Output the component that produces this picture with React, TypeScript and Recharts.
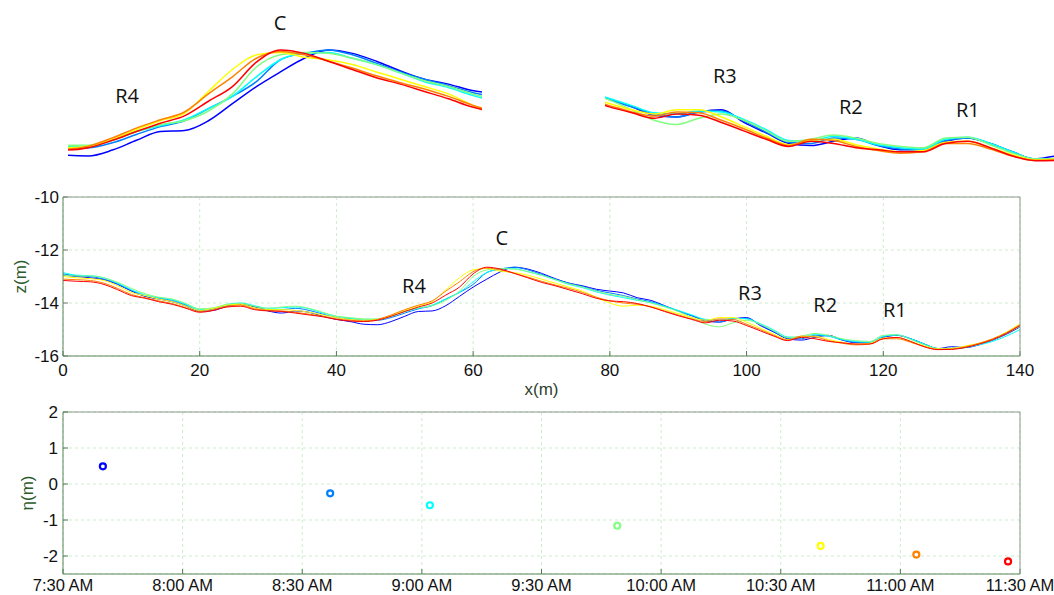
import React from 'react';
import {
  LineChart,
  Line,
  XAxis,
  YAxis,
  CartesianGrid,
  ReferenceDot,
  ScatterChart,
  Scatter,
} from 'recharts';

// ---------- data ----------
const X_POS = [
  0, 2, 4, 6, 8, 10, 12, 14, 16, 18, 20, 22, 24, 26, 28, 30, 32, 34, 36, 38,
  40, 42, 44, 46, 48, 50, 52, 54, 56, 58, 60, 62, 64, 66, 68, 70, 72, 74, 76, 78,
  80, 82, 84, 86, 88, 90, 92, 94, 96, 98, 100, 102, 104, 106, 108, 110, 112, 114, 116, 118,
  120, 122, 124, 126, 128, 130, 132, 134, 136, 138, 140,
];

const Z_0740 = [
  -12.95, -13.0, -13.05, -13.12, -13.3, -13.55, -13.75, -13.85, -13.95, -14.12, -14.32, -14.28, -14.12, -14.05, -14.15, -14.3, -14.38, -14.3, -14.35, -14.5,
  -14.62, -14.7, -14.8, -14.82, -14.7, -14.5, -14.32, -14.3, -14.1, -13.75, -13.4, -13.1, -12.82, -12.65, -12.72, -12.88, -13.08, -13.25, -13.35, -13.48,
  -13.55, -13.62, -13.8, -13.9, -14.1, -14.3, -14.48, -14.68, -14.72, -14.6, -14.55, -14.85, -15.1, -15.35, -15.4, -15.3, -15.22, -15.4, -15.5, -15.5,
  -15.3, -15.22, -15.35, -15.55, -15.72, -15.65, -15.68, -15.58, -15.4, -15.18, -14.9,
];
const Z_0837 = [
  -12.9, -12.97, -13.0, -13.1, -13.28, -13.52, -13.72, -13.82, -13.9, -14.08, -14.28, -14.22, -14.08, -14.02, -14.12, -14.25, -14.25, -14.2, -14.28, -14.42,
  -14.55, -14.6, -14.65, -14.65, -14.55, -14.38, -14.22, -14.1, -13.85, -13.6, -13.3, -12.85, -12.72, -12.65, -12.75, -12.92, -13.1, -13.25, -13.38, -13.52,
  -13.62, -13.72, -13.85, -13.95, -14.12, -14.3, -14.48, -14.65, -14.72, -14.6, -14.58, -14.82, -15.08, -15.32, -15.35, -15.22, -15.25, -15.4, -15.48, -15.5,
  -15.28, -15.22, -15.35, -15.55, -15.72, -15.72, -15.68, -15.55, -15.4, -15.15, -14.85,
];
const Z_0902 = [
  -12.85, -12.95, -12.97, -13.05, -13.25, -13.5, -13.7, -13.8, -13.88, -14.05, -14.25, -14.2, -14.05, -14.0, -14.1, -14.2, -14.18, -14.15, -14.22, -14.38,
  -14.5, -14.58, -14.62, -14.62, -14.5, -14.32, -14.2, -14.08, -13.85, -13.6, -13.2, -12.85, -12.72, -12.7, -12.82, -12.95, -13.12, -13.3, -13.42, -13.58,
  -13.7, -13.8, -13.9, -13.98, -14.12, -14.28, -14.45, -14.62, -14.65, -14.58, -14.6, -14.78, -15.02, -15.28, -15.3, -15.18, -15.25, -15.38, -15.45, -15.48,
  -15.25, -15.2, -15.35, -15.55, -15.72, -15.72, -15.68, -15.58, -15.45, -15.25, -15.0,
];
const Z_0949 = [
  -12.95, -12.98, -12.98, -13.05, -13.22, -13.45, -13.65, -13.78, -13.85, -14.02, -14.22, -14.18, -14.05, -14.02, -14.12, -14.2, -14.15, -14.12, -14.2, -14.35,
  -14.5, -14.55, -14.6, -14.6, -14.5, -14.32, -14.18, -14.1, -13.9, -13.55, -13.0, -12.75, -12.7, -12.72, -12.82, -12.95, -13.12, -13.28, -13.4, -13.55,
  -13.68, -13.75, -13.88, -14.0, -14.15, -14.32, -14.55, -14.8, -14.9, -14.75, -14.65, -14.8, -15.05, -15.3, -15.25, -15.15, -15.22, -15.35, -15.42, -15.45,
  -15.22, -15.2, -15.38, -15.58, -15.72, -15.7, -15.65, -15.55, -15.38, -15.15, -14.88,
];
const Z_1040 = [
  -13.0, -13.05, -13.08, -13.15, -13.35, -13.6, -13.72, -13.85, -13.95, -14.12, -14.28, -14.2, -14.08, -14.05, -14.18, -14.25, -14.25, -14.28, -14.35, -14.45,
  -14.55, -14.62, -14.65, -14.62, -14.48, -14.28, -14.1, -13.95, -13.5, -13.05, -12.75, -12.7, -12.8, -12.85, -12.95, -13.1, -13.25, -13.4, -13.55, -13.78,
  -14.0, -14.12, -14.08, -14.12, -14.25, -14.4, -14.55, -14.65, -14.55, -14.55, -14.72, -14.95, -15.18, -15.38, -15.28, -15.25, -15.38, -15.48, -15.55, -15.52,
  -15.32, -15.3, -15.45, -15.62, -15.74, -15.72, -15.62, -15.52, -15.35, -15.1, -14.78,
];
const Z_1104 = [
  -13.1, -13.12, -13.15, -13.25, -13.45, -13.68, -13.8, -13.92, -14.02, -14.18, -14.32, -14.25, -14.12, -14.08, -14.22, -14.28, -14.3, -14.35, -14.42, -14.5,
  -14.6, -14.65, -14.68, -14.62, -14.45, -14.25, -14.08, -13.92, -13.55, -13.2, -12.82, -12.68, -12.75, -12.88, -13.02, -13.18, -13.32, -13.45, -13.6, -13.78,
  -13.92, -14.0, -14.05, -14.15, -14.3, -14.45, -14.6, -14.7, -14.6, -14.62, -14.8, -15.0, -15.22, -15.4, -15.25, -15.28, -15.42, -15.52, -15.58, -15.55,
  -15.35, -15.35, -15.48, -15.65, -15.75, -15.74, -15.65, -15.52, -15.35, -15.12, -14.82,
];
const Z_1127 = [
  -13.15, -13.18, -13.2, -13.3, -13.5, -13.72, -13.82, -13.95, -14.05, -14.2, -14.35, -14.28, -14.15, -14.12, -14.25, -14.3, -14.32, -14.38, -14.45, -14.52,
  -14.62, -14.68, -14.7, -14.65, -14.5, -14.32, -14.15, -14.0, -13.7, -13.4, -12.9, -12.65, -12.72, -12.88, -13.05, -13.22, -13.35, -13.5, -13.65, -13.82,
  -13.92, -13.95, -14.02, -14.15, -14.32, -14.48, -14.62, -14.75, -14.65, -14.68, -14.85, -15.05, -15.25, -15.42, -15.3, -15.35, -15.45, -15.5, -15.55, -15.55,
  -15.35, -15.3, -15.45, -15.65, -15.76, -15.75, -15.68, -15.55, -15.38, -15.15, -14.85,
];

const SURVEY_TIMES = ['7:40', '8:37', '9:02', '9:49', '10:40', '11:04', '11:27'];
const ETA = [0.49, -0.26, -0.59, -1.16, -1.72, -1.96, -2.15];

const X_TICKS = [0, 20, 40, 60, 80, 100, 120, 140];
const Z_TICKS = [-16, -14, -12, -10];
const ETA_TICKS = [-2, -1, 0, 1, 2];
const TIME_TICK_LABELS = ['7:30 AM', '8:00 AM', '8:30 AM', '9:00 AM', '9:30 AM', '10:00 AM', '10:30 AM', '11:00 AM', '11:30 AM'];

const MAIN_NOTES = [
  { name: 'C', x: 64.2, z: -11.55 },
  { name: 'R4', x: 51.35, z: -13.36 },
  { name: 'R3', x: 100.5, z: -13.61 },
  { name: 'R2', x: 111.5, z: -14.08 },
  { name: 'R1', x: 121.7, z: -14.26 },
];
const INSET_A_NOTES = [
  { name: 'C', x: 61.97, z: -12.1 },
  { name: 'R4', x: 49.22, z: -13.59 },
];
const INSET_B_NOTES = [
  { name: 'R3', x: 100.31, z: -13.75 },
  { name: 'R2', x: 111.56, z: -14.49 },
  { name: 'R1', x: 122.0, z: -14.56 },
];

// ---------- styles ----------
const PROFILES = [Z_0740, Z_0837, Z_0902, Z_0949, Z_1040, Z_1104, Z_1127];
const JET7 = ['#0000ff', '#0080ff', '#00ffff', '#80ff80', '#ffff00', '#ff8000', '#ff0000'];
const FONT = '"Liberation Sans", Arial, sans-serif';
const NOTE_FONT = '"Open Sans", "Noto Sans", sans-serif';
const FRAME = '#5a865a';
const FRAME2 = '#8c998c';
const TICK = '#4f7a4f';
const LABEL_GREEN = '#2b5a2b';
const GRID = '#cdeccd';

const toMin = (s: string) => {
  const m = s.match(/(\d+):(\d+)/);
  if (!m) return 0;
  let h = parseInt(m[1], 10);
  if (/PM/.test(s) && h < 12) h += 12;
  return h * 60 + parseInt(m[2], 10);
};

const rows = X_POS.map((x, i) => {
  const r: Record<string, number> = { x };
  PROFILES.forEach((p, k) => {
    r['s' + k] = p[i];
  });
  return r;
});

const points = SURVEY_TIMES.map((t, i) => ({ t: toMin(t), eta: ETA[i] }));
const TIME_TICKS = TIME_TICK_LABELS.map(toMin);

const tickStyle = { fill: '#111', fontSize: 17, fontFamily: FONT };

const renderLines = (w: number) =>
  PROFILES.map((_, k) => (
    <Line
      key={k}
      type="monotone"
      dataKey={'s' + k}
      stroke={JET7[k]}
      strokeWidth={w}
      dot={false}
      activeDot={false}
      isAnimationActive={false}
    />
  ));

const renderNotes = (notes: { name: string; x: number; z: number }[]) =>
  notes.map((n) => (
    <ReferenceDot
      key={n.name}
      x={n.x}
      y={n.z}
      r={0}
      fill="none"
      stroke="none"
      ifOverflow="visible"
      label={{ value: n.name, position: 'center', fill: '#111', fontSize: 20, fontFamily: NOTE_FONT }}
    />
  ));

export default function App() {
  return (
    <div style={{ position: 'absolute', left: 0, top: 0, width: 1054, height: 595, background: '#fff', overflow: 'hidden' }}>
      {/* Inset A: zoom around R4 and C */}
      <div style={{ position: 'absolute', left: 68, top: 5 }}>
        <LineChart width={414} height={170} data={rows} margin={{ top: 0, right: 0, bottom: 0, left: 0 }}>
          <XAxis dataKey="x" type="number" domain={[44.3, 78.8]} allowDataOverflow hide />
          <YAxis type="number" domain={[-15.21, -11.73]} allowDataOverflow hide />
          {renderLines(1.5)}
          {renderNotes(INSET_A_NOTES)}
        </LineChart>
      </div>

      {/* Inset B: zoom around R3, R2, R1 */}
      <div style={{ position: 'absolute', left: 605, top: 40 }}>
        <LineChart width={449} height={135} data={rows} margin={{ top: 0, right: 0, bottom: 0, left: 0 }}>
          <XAxis dataKey="x" type="number" domain={[89.6, 129.7]} allowDataOverflow hide />
          <YAxis type="number" domain={[-16.1, -12.89]} allowDataOverflow hide />
          {renderLines(1.5)}
          {renderNotes(INSET_B_NOTES)}
        </LineChart>
      </div>

      {/* Main profile chart */}
      <div style={{ position: 'absolute', left: 0, top: 180 }}>
        <LineChart width={1054} height={220} data={rows} margin={{ top: 0, right: 30, bottom: 0, left: 0 }}>
          <CartesianGrid stroke={GRID} strokeDasharray="3 3" />
          <XAxis
            dataKey="x"
            type="number"
            domain={[0, 140]}
            ticks={X_TICKS}
            height={44}
            tickSize={-5}
            tickMargin={13}
            axisLine={{ stroke: FRAME }}
            tickLine={{ stroke: TICK }}
            tick={tickStyle}
            label={{ value: 'x(m)', position: 'center', dy: 11, fill: '#2f3f2f', fontSize: 17, fontFamily: FONT }}
          />
          <XAxis
            xAxisId="top"
            orientation="top"
            dataKey="x"
            type="number"
            domain={[0, 140]}
            ticks={X_TICKS}
            height={17}
            tickSize={-5}
            tick={false}
            axisLine={{ stroke: FRAME2 }}
            tickLine={{ stroke: TICK }}
          />
          <YAxis
            type="number"
            domain={[-16, -10]}
            ticks={Z_TICKS}
            width={63}
            tickSize={-5}
            tickMargin={9}
            axisLine={{ stroke: FRAME }}
            tickLine={{ stroke: '#777' }}
            tick={tickStyle}
            label={{ value: 'z(m)', angle: -90, position: 'center', dx: -12, fill: LABEL_GREEN, fontSize: 17, fontFamily: FONT }}
          />
          <YAxis
            yAxisId="right"
            orientation="right"
            type="number"
            domain={[-16, -10]}
            ticks={Z_TICKS}
            width={4}
            tickSize={-5}
            tick={false}
            axisLine={{ stroke: FRAME2 }}
            tickLine={{ stroke: '#777' }}
          />
          {renderLines(1)}
          {renderNotes(MAIN_NOTES)}
        </LineChart>
      </div>

      {/* Water level chart */}
      <div style={{ position: 'absolute', left: 0, top: 400 }}>
        <ScatterChart width={1054} height={200} margin={{ top: 0, right: 30, bottom: 0, left: 0 }}>
          <CartesianGrid stroke={GRID} strokeDasharray="3 3" />
          <XAxis
            dataKey="t"
            type="number"
            domain={[TIME_TICKS[0], TIME_TICKS[TIME_TICKS.length - 1]]}
            ticks={TIME_TICKS}
            tickFormatter={(v: number) => TIME_TICK_LABELS[TIME_TICKS.indexOf(v)] ?? ''}
            height={26}
            tickSize={-5}
            tickMargin={10}
            axisLine={{ stroke: FRAME }}
            tickLine={{ stroke: TICK }}
            tick={{ ...tickStyle, fontSize: 16.5 }}
            interval={0}
          />
          <XAxis
            xAxisId="top"
            orientation="top"
            dataKey="t"
            type="number"
            domain={[TIME_TICKS[0], TIME_TICKS[TIME_TICKS.length - 1]]}
            ticks={TIME_TICKS}
            height={12}
            tickSize={-5}
            tick={false}
            axisLine={{ stroke: FRAME2 }}
            tickLine={{ stroke: TICK }}
          />
          <YAxis
            dataKey="eta"
            type="number"
            domain={[-2.5, 2]}
            ticks={ETA_TICKS}
            width={63}
            tickSize={-5}
            tickMargin={10}
            axisLine={{ stroke: FRAME }}
            tickLine={{ stroke: TICK }}
            tick={tickStyle}
            label={{ value: 'η(m)', angle: -90, position: 'center', dx: -5, fill: LABEL_GREEN, fontSize: 17, fontFamily: FONT }}
          />
          <YAxis
            yAxisId="right"
            orientation="right"
            dataKey="eta"
            type="number"
            domain={[-2.5, 2]}
            ticks={ETA_TICKS}
            width={4}
            tickSize={-5}
            tick={false}
            axisLine={{ stroke: FRAME2 }}
            tickLine={{ stroke: TICK }}
          />
          {points.map((p, i) => (
            <Scatter
              key={i}
              data={[p]}
              isAnimationActive={false}
              shape={(props: any) => (
                <circle cx={props.cx} cy={props.cy} r={3} fill="#fff" stroke={JET7[i]} strokeWidth={2.2} />
              )}
            />
          ))}
        </ScatterChart>
      </div>
    </div>
  );
}
